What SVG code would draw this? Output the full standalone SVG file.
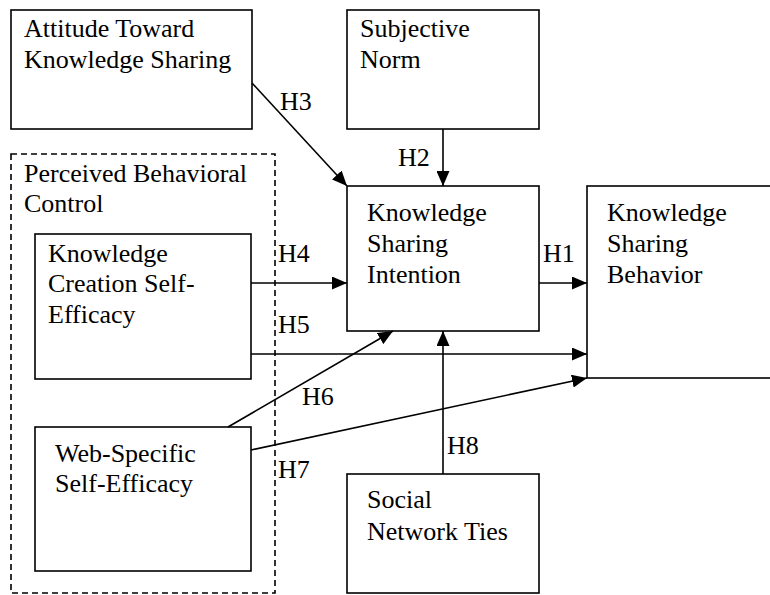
<svg xmlns="http://www.w3.org/2000/svg" width="770" height="595" viewBox="0 0 770 595">
<style>
.box{fill:#fff;stroke:#000;stroke-width:1.6}
.dash{fill:none;stroke:#000;stroke-width:1.6;stroke-dasharray:6,4}
text{font-family:'Liberation Serif','Times New Roman',Tinos,'DejaVu Serif',serif;font-size:26px;fill:#000}
.c{stroke:#000;stroke-width:1.6;fill:none;marker-end:url(#ah)}
</style>
<defs>
<marker id="ah" markerUnits="userSpaceOnUse" markerWidth="15" markerHeight="13" refX="15" refY="6.5" orient="auto">
<path d="M0,0 L15,6.5 L0,13 z" fill="#000"/>
</marker>
</defs>
<rect width="770" height="595" fill="#fff"/>
<g id="pbc">
<rect class="dash" x="11" y="154" width="264" height="439"/>
<text x="24" y="182">Perceived Behavioral</text>
<text x="24" y="212">Control</text>
</g>
<g id="attitude">
<rect class="box" x="11" y="10" width="241" height="119"/>
<text x="24" y="37">Attitude Toward</text>
<text x="24" y="68">Knowledge Sharing</text>
</g>
<g id="subjective">
<rect class="box" x="347" y="10" width="192" height="119"/>
<text x="360" y="37">Subjective</text>
<text x="360" y="68">Norm</text>
</g>
<g id="ksi">
<rect class="box" x="347" y="186" width="192" height="145"/>
<text x="367" y="221">Knowledge</text>
<text x="367" y="252">Sharing</text>
<text x="367" y="283">Intention</text>
</g>
<g id="ksb">
<rect class="box" x="587" y="186" width="190" height="192"/>
<text x="607" y="221">Knowledge</text>
<text x="607" y="252">Sharing</text>
<text x="607" y="283">Behavior</text>
</g>
<g id="kcse">
<rect class="box" x="35" y="234" width="216" height="145"/>
<text x="48" y="262">Knowledge</text>
<text x="48" y="292">Creation Self-</text>
<text x="48" y="323">Efficacy</text>
</g>
<g id="wsse">
<rect class="box" x="35" y="427" width="216" height="144"/>
<text x="55" y="462">Web-Specific</text>
<text x="55" y="492">Self-Efficacy</text>
</g>
<g id="snt">
<rect class="box" x="347" y="474" width="192" height="119"/>
<text x="367" y="508">Social</text>
<text x="367" y="540">Network Ties</text>
</g>
<g id="connectors">
<line class="c" x1="539" y1="283" x2="587" y2="283"/>
<line class="c" x1="443" y1="129" x2="443" y2="186"/>
<line class="c" x1="252" y1="83" x2="347" y2="186"/>
<line class="c" x1="251" y1="283" x2="347" y2="283"/>
<line class="c" x1="251" y1="354" x2="587" y2="354"/>
<line class="c" x1="228" y1="427" x2="393" y2="331"/>
<line class="c" x1="251" y1="450" x2="587" y2="378"/>
<line class="c" x1="443" y1="474" x2="443" y2="331"/>
<text x="543" y="262">H1</text>
<text x="398" y="166">H2</text>
<text x="280" y="110">H3</text>
<text x="278" y="262">H4</text>
<text x="278" y="333">H5</text>
<text x="302" y="405">H6</text>
<text x="278" y="478">H7</text>
<text x="447" y="454">H8</text>
</g>
</svg>
